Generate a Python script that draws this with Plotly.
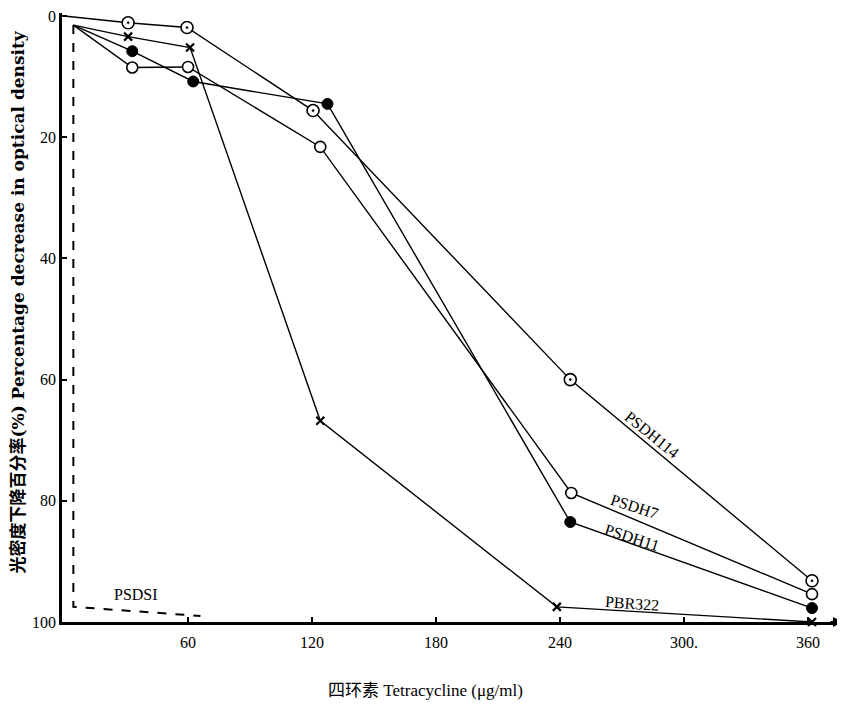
import plotly.graph_objects as go

# Data (x: tetracycline µg/ml, y: % decrease in optical density)
psdh114_x = [0, 31, 59.5, 120.5, 245, 362]
psdh114_y = [0, 1.1, 1.9, 15.6, 60, 93.2]

psdh7_x = [4.5, 33, 60, 124, 245.5, 362]
psdh7_y = [1.5, 8.5, 8.4, 21.6, 78.7, 95.4]

psdh11_x = [4.5, 33, 62.5, 127.5, 245, 362]
psdh11_y = [1.5, 5.8, 10.8, 14.5, 83.5, 97.7]

pbr322_x = [4.5, 31, 61, 124, 238.5, 362]
pbr322_y = [1.5, 3.4, 5.2, 66.8, 97.5, 100]

psdsi_x = [4.5, 4.5, 66]
psdsi_y = [1.5, 97.5, 99]

x_tickvals = [60, 120, 180, 240, 300, 360]
x_ticktext = ["60", "120", "180", "240", "300.", "360"]
y_tickvals = [0, 20, 40, 60, 80, 100]
y_ticktext = ["0", "20", "40", "60", "80", "100"]

SERIF = "'Liberation Serif', 'Times New Roman', 'Noto Sans CJK SC', serif"
WIDE_SERIF = "'DejaVu Serif', 'Noto Sans CJK SC', serif"
line_style = dict(color="black", width=1.4)

fig = go.Figure()
fig.add_trace(go.Scatter(x=psdsi_x, y=psdsi_y, mode="lines",
                         line=dict(color="black", width=2, dash="dash"),
                         cliponaxis=False, showlegend=False))

series = [
    (psdh114_x, psdh114_y, dict(symbol="circle-dot", size=12, color="white",
                                line=dict(color="black", width=1.6))),
    (psdh7_x, psdh7_y, dict(symbol="circle", size=11, color="white",
                            line=dict(color="black", width=1.6))),
    (psdh11_x, psdh11_y, dict(symbol="circle", size=11, color="black",
                              line=dict(color="black", width=1))),
    (pbr322_x, pbr322_y, dict(symbol="x-thin", size=8, color="black",
                              line=dict(color="black", width=2.2))),
]
for sx, sy, mk in series:
    fig.add_trace(go.Scatter(x=sx, y=sy, mode="lines", line=line_style,
                             cliponaxis=False, showlegend=False))
for sx, sy, mk in series:
    fig.add_trace(go.Scatter(x=sx[1:], y=sy[1:], mode="markers", marker=mk,
                             cliponaxis=False, showlegend=False))

# Series labels
labels = [
    ("PSDH114", 284.5, 69, 39),
    ("PSDH7", 276, 81, 18),
    ("PSDH11", 275, 86, 18),
    ("PBR322", 275, 97, 4),
    ("PSDSI", 35, 95.5, 0),
]
for txt, lx, ly, ang in labels:
    fig.add_annotation(x=lx, y=ly, text=txt, showarrow=False, textangle=ang,
                       font=dict(family=SERIF, size=16, color="black"))

# Axis titles
fig.add_annotation(xref="paper", yref="paper", x=-0.056, y=0.525,
                   text="<b>光密度下降百分率(%) Percentage decrease in optical density</b>",
                   textangle=-90, showarrow=False, xanchor="center", yanchor="middle",
                   font=dict(family=WIDE_SERIF, size=17, color="black"))
fig.add_annotation(xref="paper", yref="paper", x=0.465, y=-0.112,
                   text="四环素 Tetracycline (μg/ml)", showarrow=False,
                   xanchor="center", yanchor="middle",
                   font=dict(family=SERIF, size=17, color="black"))

# Arrow at the end of the x axis
fig.add_annotation(xref="paper", yref="paper", x=1.0, y=0, ax=-14, ay=0,
                   axref="pixel", ayref="pixel", text="", showarrow=True,
                   arrowhead=2, arrowsize=1, arrowwidth=2, arrowcolor="black")

fig.update_xaxes(range=[-1, 377], showgrid=False, zeroline=False, automargin=False,
                 showline=True, linecolor="black", linewidth=2.5,
                 ticks="inside", ticklen=5, tickwidth=2, tickcolor="black",
                 tickvals=x_tickvals, ticktext=x_ticktext, ticklabelstandoff=4,
                 ticklabeloverflow="allow",
                 tickfont=dict(family=SERIF, size=16, color="black"))
fig.update_yaxes(range=[100, -0.5], showgrid=False, zeroline=False, automargin=False,
                 showline=True, linecolor="black", linewidth=2.5,
                 ticks="inside", ticklen=5, tickwidth=2, tickcolor="black",
                 tickvals=y_tickvals, ticktext=y_ticktext,
                 ticklabeloverflow="allow",
                 tickfont=dict(family=SERIF, size=16, color="black"))

fig.update_layout(width=845, height=704, plot_bgcolor="white", paper_bgcolor="white",
                  margin=dict(l=54, r=10, t=5, b=90), showlegend=False)

fig.write_html("out.html")
